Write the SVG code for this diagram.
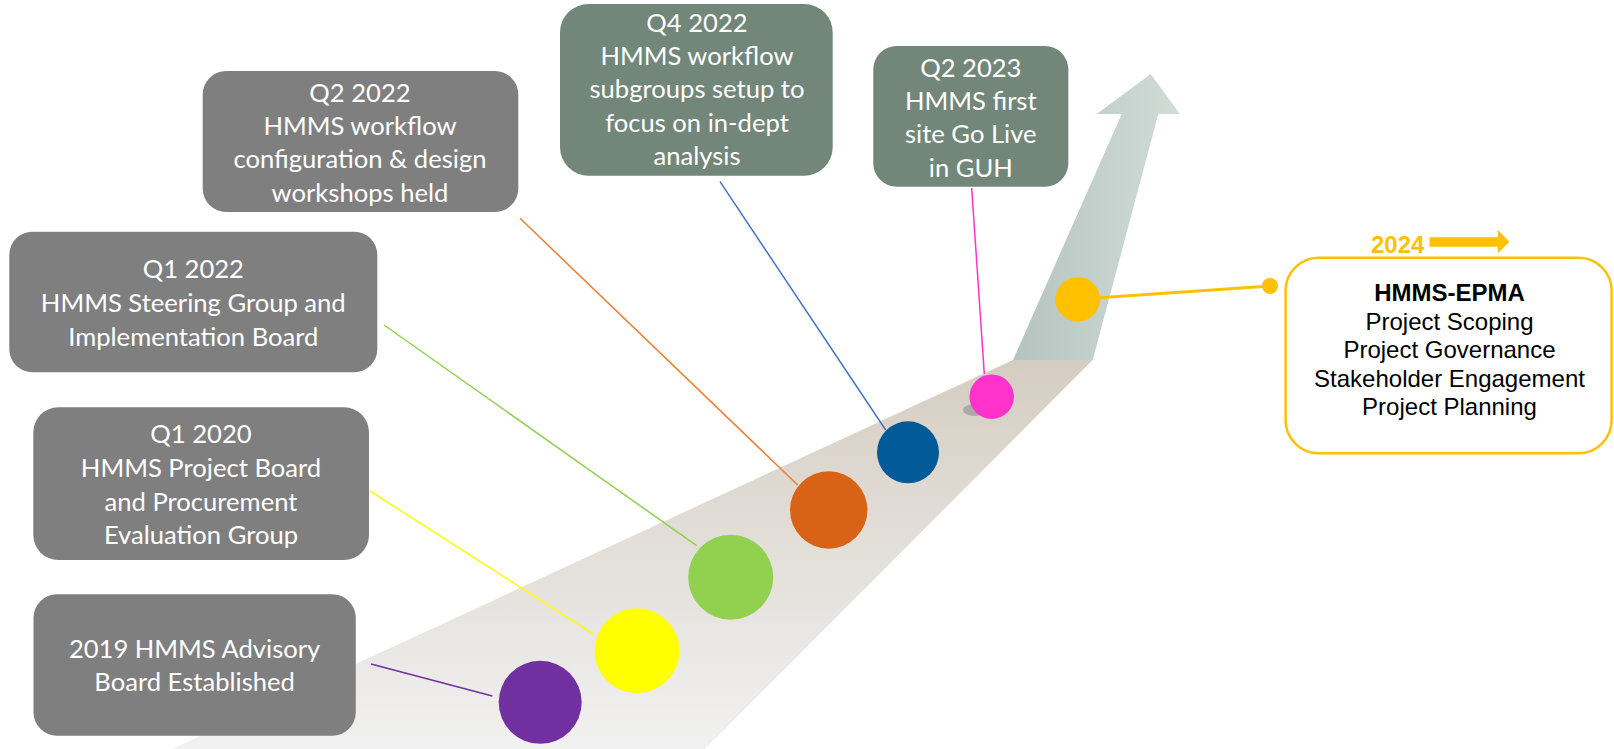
<svg xmlns="http://www.w3.org/2000/svg" width="1614" height="749" viewBox="0 0 1614 749">
<defs>
<linearGradient id="bandGrad" x1="0" y1="360" x2="0" y2="749" gradientUnits="userSpaceOnUse">
<stop offset="0" stop-color="#d5cdc2"/>
<stop offset="1" stop-color="#f1f1f1"/>
</linearGradient>
<linearGradient id="shaftGrad" x1="1013" y1="0" x2="1180" y2="0" gradientUnits="userSpaceOnUse">
<stop offset="0" stop-color="#b4c4be"/>
<stop offset="1" stop-color="#d2dcd8"/>
</linearGradient>
<style>
.box-gray{fill:#7f7f7f;}
.box-green{fill:#72867a;}
.lbl{font-family:Lato,"Liberation Sans",sans-serif;font-size:25.6px;fill:#ffffff;text-anchor:middle;}
.epma{font-family:"Liberation Sans",Arial,sans-serif;font-size:24px;fill:#000000;text-anchor:middle;}
.conn{fill:none;stroke-width:1.5;}
</style>
</defs>
<rect width="1614" height="749" fill="#ffffff"/>
<g id="track">
<polygon points="1013,360 1121.7,114 1096.7,114 1150.7,74 1180,114 1158.3,114 1092.7,360" fill="url(#shaftGrad)"/>
<polygon points="172,749 1013,360 1092.7,360 705,749" fill="url(#bandGrad)"/>
</g>
<g id="connectors">
<line class="conn" x1="371" y1="664" x2="492.3" y2="696" stroke="#7030a0"/>
<line class="conn" x1="370" y1="491" x2="594" y2="634.3" stroke="#ffff00"/>
<line class="conn" x1="384" y1="325" x2="696.7" y2="545.7" stroke="#92d050"/>
<line class="conn" x1="520" y1="218.3" x2="797.7" y2="485" stroke="#ed7d31"/>
<line class="conn" x1="720" y1="181.7" x2="885.7" y2="430" stroke="#4472c4"/>
<line class="conn" x1="971.7" y1="188" x2="984.3" y2="374" stroke="#ff33cc"/>
<line x1="1077.7" y1="299.3" x2="1270" y2="286" stroke="#ffc000" stroke-width="3"/>
<circle cx="1270" cy="286" r="8" fill="#ffc000"/>
</g>
<g id="markers">
<circle cx="540.2" cy="702.3" r="41.5" fill="#7030a0"/>
<circle cx="637" cy="650.7" r="42.5" fill="#ffff00"/>
<circle cx="730.7" cy="577.3" r="42.5" fill="#92d050"/>
<circle cx="828.7" cy="510" r="38.7" fill="#d86215"/>
<circle cx="908" cy="452.3" r="31" fill="#025a99"/>
<ellipse cx="975" cy="410" rx="12" ry="6" fill="#9a9a9a" opacity="0.7"/>
<circle cx="991.7" cy="396.7" r="22.3" fill="#ff33cc"/>
<circle cx="1077.7" cy="299.3" r="22.3" fill="#ffc000"/>
</g>
<g id="node-2019">
<rect class="box-gray" x="33.5" y="594.3" width="322.3" height="141.4" rx="23.5"/>
<text class="lbl" x="194.6" y="657.7">2019 HMMS Advisory</text>
<text class="lbl" x="194.6" y="691">Board Established</text>
</g>
<g id="node-q1-2020">
<rect class="box-gray" x="33.3" y="407.3" width="335.7" height="152.7" rx="25"/>
<text class="lbl" x="201" y="443.3">Q1 2020</text>
<text class="lbl" x="201" y="477.3">HMMS Project Board</text>
<text class="lbl" x="201" y="510.7">and Procurement</text>
<text class="lbl" x="201" y="544">Evaluation Group</text>
</g>
<g id="node-q1-2022">
<rect class="box-gray" x="9.3" y="231.7" width="368" height="140.6" rx="23"/>
<text class="lbl" x="193.3" y="278.3">Q1 2022</text>
<text class="lbl" x="193.3" y="311.7">HMMS Steering Group and</text>
<text class="lbl" x="193.3" y="345.7">Implementation Board</text>
</g>
<g id="node-q2-2022">
<rect class="box-gray" x="202.7" y="71" width="315.6" height="141" rx="23.5"/>
<text class="lbl" x="360" y="101.7">Q2 2022</text>
<text class="lbl" x="360" y="135">HMMS workflow</text>
<text class="lbl" x="360" y="168.3">configuration &amp; design</text>
<text class="lbl" x="360" y="202">workshops held</text>
</g>
<g id="node-q4-2022">
<rect class="box-green" x="560" y="4" width="272.7" height="171.7" rx="28.5"/>
<text class="lbl" x="697" y="31.7">Q4 2022</text>
<text class="lbl" x="697" y="65">HMMS workflow</text>
<text class="lbl" x="697" y="98.3">subgroups setup to</text>
<text class="lbl" x="697" y="131.7">focus on in-dept</text>
<text class="lbl" x="697" y="165">analysis</text>
</g>
<g id="node-q2-2023">
<rect class="box-green" x="873.3" y="46" width="195" height="140.7" rx="23.4"/>
<text class="lbl" x="970.8" y="76.5">Q2 2023</text>
<text class="lbl" x="970.8" y="109.5">HMMS first</text>
<text class="lbl" x="970.8" y="143">site Go Live</text>
<text class="lbl" x="970.8" y="176.7">in GUH</text>
</g>
<g id="node-2024">
<text x="1371" y="253" font-family="'Liberation Sans',Arial,sans-serif" font-size="24" font-weight="bold" fill="#ffc000">2024</text>
<polygon points="1429.5,237.3 1497.8,237.3 1497.8,230 1509.4,241.7 1497.8,253.3 1497.8,246.7 1429.5,246.7" fill="#ffc000"/>
<rect x="1285.6" y="257.7" width="326" height="195.6" rx="33" fill="#ffffff" stroke="#ffc000" stroke-width="2.5"/>
<text class="epma" x="1449.5" y="301" font-weight="bold">HMMS-EPMA</text>
<text class="epma" x="1449.5" y="329.5">Project Scoping</text>
<text class="epma" x="1449.5" y="358">Project Governance</text>
<text class="epma" x="1449.5" y="386.5">Stakeholder Engagement</text>
<text class="epma" x="1449.5" y="415">Project Planning</text>
</g>
</svg>
